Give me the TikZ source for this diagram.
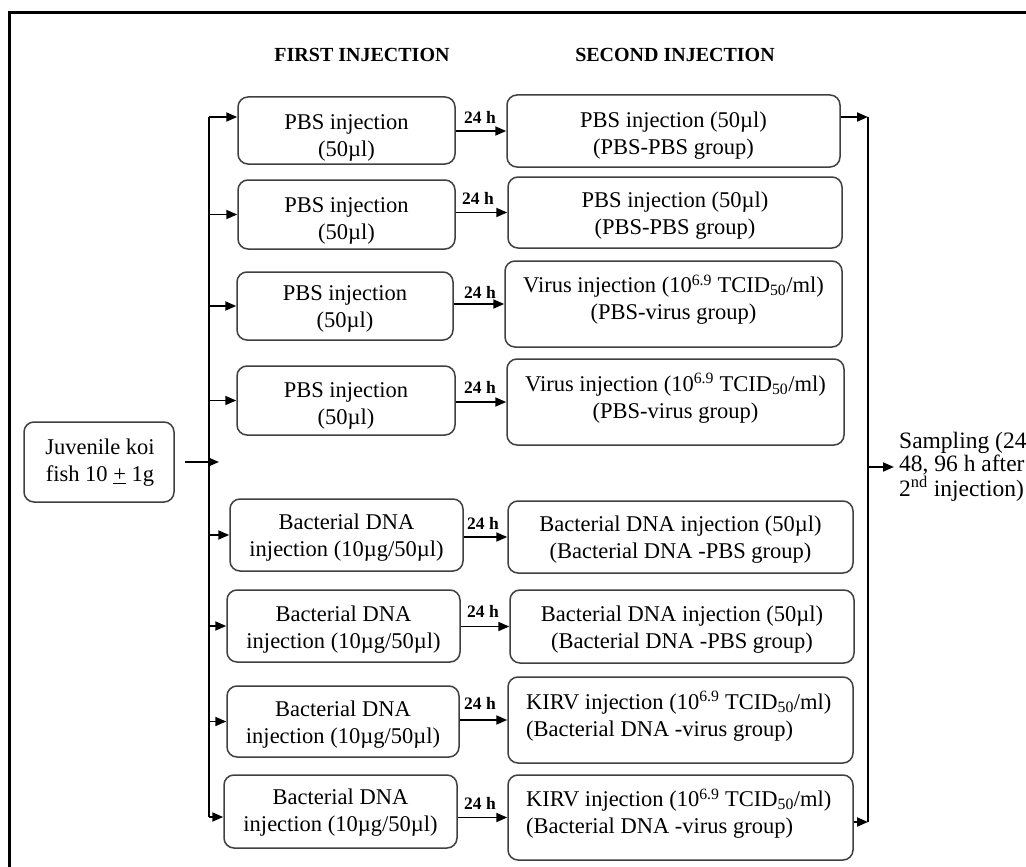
\documentclass[tikz,border=0pt]{standalone}
\usepackage{fontspec}
\setmainfont{Liberation Serif}
\usetikzlibrary{arrows.meta,calc}
\definecolor{boxline}{HTML}{404040}
\tikzset{
  bx/.style={draw=boxline, line width=1.5pt, rounded corners=10pt, inner sep=0pt},
  txt/.style={inner sep=0pt, align=center, font=\fontsize{22.5}{27}\selectfont},
  txtl/.style={inner sep=0pt, align=left, font=\fontsize{22.5}{27}\selectfont},
  hd/.style={inner sep=0pt, font=\fontsize{20}{24}\selectfont\bfseries},
  lbl/.style={inner sep=0pt, font=\fontsize{17.5}{20}\selectfont\bfseries},
  ln/.style={draw=black, line width=1.8pt},
  arr/.style={ln, -{Triangle[length=11pt,width=9pt]}},
}
\newcommand\mybox[5]{\node[bx,minimum width={(#4)-(#2)},minimum height={(#5)-(#3)}] (#1) at ({((#2)+(#4))/2},{((#3)+(#5))/2}) {};}
\begin{document}
\begin{tikzpicture}[x=1pt,y=-1pt]
\useasboundingbox (0,0) rectangle (1026,867);
\fill[white] (0,0) rectangle (1026,867);
% frame
\draw[line width=3pt] (9,870) -- (9,13) -- (1030,13);
% headings
\node[hd] (h1) at (362,55) {FIRST INJECTION};
\node[hd] (h2) at (675,55) {SECOND INJECTION};
% first column boxes
\mybox{A1}{238}{97}{455}{164}
\mybox{A2}{238}{180}{455}{249}
\mybox{A3}{237}{272}{453}{340}
\mybox{A4}{237}{366}{455}{435}
\mybox{A5}{230}{499}{463}{571}
\mybox{A6}{227}{590}{460}{662}
\mybox{A7}{227}{686}{459}{757}
\mybox{A8}{224}{775}{457}{848}
\mybox{J}{24}{422}{174}{502}
% second column boxes
\mybox{B1}{507}{95}{840}{167}
\mybox{B2}{508}{177}{842}{248}
\mybox{B3}{505}{261}{842}{347}
\mybox{B4}{507}{359}{844}{445}
\mybox{B5}{508}{501}{853}{573}
\mybox{B6}{510}{590}{854}{663}
\mybox{B7}{508}{677}{853}{763}
\mybox{B8}{508}{775}{853}{860}
% texts
\node[txt] (A1t) at (346.5,138) {PBS injection\\(50µl)};
\node[txt] (A2t) at (346.5,221) {PBS injection\\(50µl)};
\node[txt] (A3t) at (345,308.5) {PBS injection\\(50µl)};
\node[txt] (A4t) at (346,406) {PBS injection\\(50µl)};
\node[txt] (A5t) at (346.5,537.5) {Bacterial DNA\\injection (10µg/50µl)};
\node[txt] (A6t) at (343.5,629.5) {Bacterial DNA\\injection (10µg/50µl)};
\node[txt] (A7t) at (343,724.5) {Bacterial DNA\\injection (10µg/50µl)};
\node[txt] (A8t) at (340.5,812.5) {Bacterial DNA\\injection (10µg/50µl)};
\node[txt] (Jt) at (100,462.5) {Juvenile koi\\fish 10 \underline{+} 1g};
\node[txt] (B1t) at (673.5,136) {PBS injection (50µl)\\(PBS-PBS group)};
\node[txt] (B2t) at (675,215.5) {PBS injection (50µl)\\(PBS-PBS group)};
\node[txt] (B3t) at (673.5,299.5) {Virus injection (10\textsuperscript{6.9} TCID\textsubscript{50}/ml)\\(PBS-virus group)};
\node[txt] (B4t) at (675.5,398) {Virus injection (10\textsuperscript{6.9} TCID\textsubscript{50}/ml)\\(PBS-virus group)};
\node[txt] (B5t) at (680.5,539.5) {Bacterial DNA injection (50µl)\\(Bacterial DNA -PBS group)};
\node[txt] (B6t) at (682,629.5) {Bacterial DNA injection (50µl)\\(Bacterial DNA -PBS group)};
\node[txtl, anchor=west] (B7t) at (526,716) {KIRV injection (10\textsuperscript{6.9} TCID\textsubscript{50}/ml)\\(Bacterial DNA -virus group)};
\node[txtl, anchor=west] (B8t) at (526,813.5) {KIRV injection (10\textsuperscript{6.9} TCID\textsubscript{50}/ml)\\(Bacterial DNA -virus group)};
\node[txtl, anchor=west, font=\fontsize{23.5}{23.5}\selectfont] (S) at (899,467) {Sampling (24\\48, 96 h after\\2\textsuperscript{nd} injection)};
% 24 h labels
\node[lbl] (L1) at (480,117) {24 h};
\node[lbl] (L2) at (478,198) {24 h};
\node[lbl] (L3) at (480,292) {24 h};
\node[lbl] (L4) at (480,387) {24 h};
\node[lbl] (L5) at (483,523) {24 h};
\node[lbl] (L6) at (483,611) {24 h};
\node[lbl] (L7) at (480,703) {24 h};
\node[lbl] (L8) at (480,803) {24 h};
% 24 h arrows
\foreach \i in {1,...,8} {
  \draw[arr] (A\i.east |- B\i.west) -- (B\i.west);
}
% left trunk
\coordinate (LT) at (209,117);
\coordinate (LB) at (209,817);
\draw[ln] (LT) -- (LB);
\draw[arr] (LT) -- (LT -| A1.west);
\foreach \i in {2,...,7} {
  \draw[arr] (A\i.west -| LT) -- (A\i.west);
}
\draw[arr] (LB) -- (LB -| A8.west);
\draw[arr] ([xshift=10pt]J.east) -- ([xshift=10pt]J.east -| LT);
% right trunk
\coordinate (RT) at (868,117);
\coordinate (RB) at (868,822);
\draw[ln] (RT) -- (RB);
\draw[arr] (B1.east |- RT) -- (RT);
\draw[arr] (B8.east |- RB) -- (RB);
\draw[arr] (S.west -| RT) -- ([xshift=-5pt]S.west);
\end{tikzpicture}
\end{document}
